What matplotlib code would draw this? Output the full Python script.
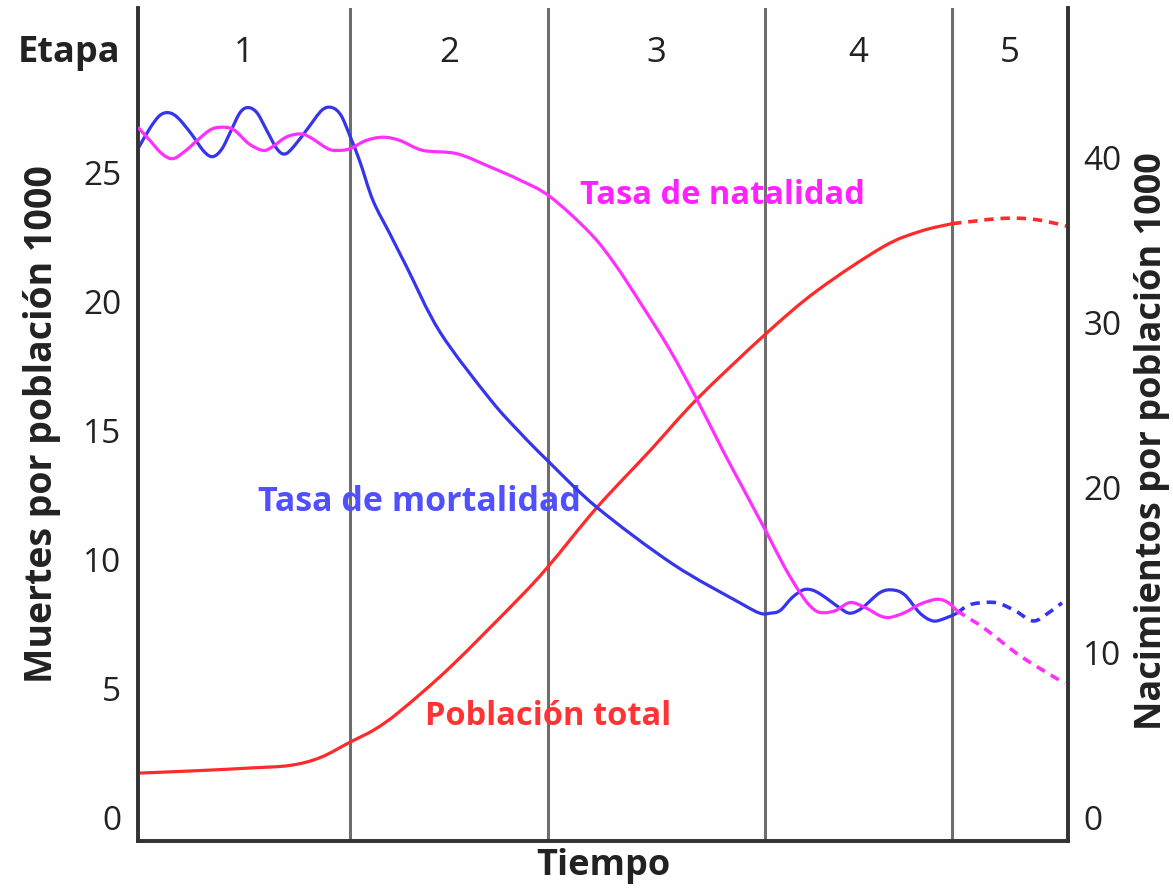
import matplotlib
matplotlib.use("Agg")
import matplotlib.pyplot as plt
from matplotlib.path import Path
from matplotlib.patches import PathPatch

plt.rcParams["font.family"] = ["Open Sans", "DejaVu Sans"]

# Tiempo (unidades arbitrarias, el eje no tiene marcas)
etapas = ["1", "2", "3", "4", "5"]
limites_etapa = [212, 410, 627, 814]

# Tasa de mortalidad (eje izquierdo, muertes por 1000)
t_mort = [0, 12, 22, 31, 40, 53, 66, 75, 84, 93, 102, 110, 119, 129, 139, 147, 156, 170, 184, 194,
          203, 212, 222, 235, 252, 269, 302, 352, 382, 410, 459, 535, 602, 622, 632, 642, 654, 665,
          674, 684, 702, 712, 724, 742, 755, 767, 782, 795, 807, 819]
mortalidad = [25.9, 26.7, 27.2, 27.3, 27.1, 26.5, 25.8, 25.6, 25.9, 26.6, 27.3, 27.5, 27.3, 26.6,
              25.9, 25.7, 26.0, 26.7, 27.4, 27.5, 27.2, 26.4, 25.4, 23.9, 22.6, 21.3, 18.8, 16.2,
              14.9, 13.8, 12.0, 9.8, 8.3, 7.9, 7.9, 8.0, 8.5, 8.8, 8.8, 8.6, 8.1, 7.9, 8.1, 8.7,
              8.8, 8.6, 7.9, 7.6, 7.7, 7.9]
t_mort_proy = [819, 830, 842, 859, 877, 895, 910, 924]
mortalidad_proy = [7.9, 8.2, 8.3, 8.3, 8.0, 7.6, 7.9, 8.3]

# Tasa de natalidad (eje derecho, nacimientos por 1000)
t_nat = [0, 12, 24, 35, 48, 61, 74, 87, 97, 111, 125, 134, 148, 162, 172, 190, 200, 212, 228, 245,
         262, 285, 319, 352, 382, 412, 452, 477, 502, 532, 559, 585, 607, 629, 647, 662, 672, 682,
         697, 712, 727, 742, 752, 767, 782, 799, 810, 819]
natalidad = [41.8, 41.0, 40.2, 39.9, 40.4, 41.1, 41.7, 41.8, 41.6, 40.8, 40.4, 40.6, 41.2, 41.4,
             41.2, 40.5, 40.4, 40.5, 41.0, 41.2, 41.0, 40.4, 40.2, 39.4, 38.6, 37.6, 35.4, 33.5,
             31.2, 28.3, 25.3, 22.2, 19.7, 17.2, 15.1, 13.6, 12.8, 12.4, 12.5, 13.0, 12.7, 12.2,
             12.1, 12.4, 12.9, 13.2, 13.0, 12.5]
t_nat_proy = [819, 832, 845, 862, 879, 902, 927]
natalidad_proy = [12.5, 12.0, 11.5, 10.7, 9.9, 9.0, 8.1]

# Población total (escala relativa sobre el eje izquierdo)
t_pob = [0, 62, 112, 152, 182, 212, 237, 262, 312, 379, 410, 459, 512, 559, 627, 679, 745, 782, 814]
poblacion = [1.7, 1.8, 1.9, 2.0, 2.3, 2.9, 3.4, 4.1, 5.8, 8.4, 9.7, 12.0, 14.2, 16.2, 18.7, 20.4,
             22.1, 22.7, 23.0]
t_pob_proy = [814, 837, 862, 887, 907, 929]
poblacion_proy = [23.0, 23.1, 23.2, 23.2, 23.1, 22.9]

azul = "#3535ee"
magenta = "#ff30ff"
rojo = "#ff2a2a"
gris = "#333333"
punteado = (0, (2.6, 1.9))


def curva(eje, xs, ys, **kw):
    # trazo suave (Bezier) que pasa por los puntos leídos
    pts = list(zip(xs, ys))
    verts = [pts[0]]
    codes = [Path.MOVETO]
    n = len(pts)
    for i in range(n - 1):
        p0 = pts[max(i - 1, 0)]
        p1 = pts[i]
        p2 = pts[i + 1]
        p3 = pts[min(i + 2, n - 1)]
        c1 = (p1[0] + (p2[0] - p0[0]) / 6, p1[1] + (p2[1] - p0[1]) / 6)
        c2 = (p2[0] - (p3[0] - p1[0]) / 6, p2[1] - (p3[1] - p1[1]) / 6)
        verts += [c1, c2, p2]
        codes += [Path.CURVE4] * 3
    eje.add_patch(PathPatch(Path(verts, codes), fill=False, **kw))


fig = plt.figure(figsize=(11.73, 8.89), dpi=100)
ax = fig.add_axes([0.1176, 0.054, 0.7929, 0.937])
ax2 = ax.twinx()

ax.set_xlim(0, 930)
ax.set_ylim(-0.93, 31.36)
ax2.set_ylim(-1.45, 49.03)

# Líneas de separación de etapas
for x in limites_etapa:
    ax.axvline(x, color="#6e6e6e", lw=2.2, zorder=1)

curva(ax, t_pob, poblacion, edgecolor=rojo, lw=2.3, zorder=3)
curva(ax, t_pob_proy, poblacion_proy, edgecolor=rojo, lw=2.6, ls=punteado, zorder=3)
curva(ax, t_mort, mortalidad, edgecolor=azul, lw=2.3, zorder=4)
curva(ax, t_mort_proy, mortalidad_proy, edgecolor=azul, lw=2.6, ls=punteado, zorder=4)
curva(ax2, t_nat, natalidad, edgecolor=magenta, lw=2.3, zorder=3)
curva(ax2, t_nat_proy, natalidad_proy, edgecolor=magenta, lw=2.6, ls=punteado, zorder=3)

# Ejes
for a in (ax, ax2):
    a.spines["top"].set_visible(False)
    for s in ("left", "right", "bottom"):
        a.spines[s].set_color(gris)
        a.spines[s].set_linewidth(2.6)
    a.tick_params(length=0, labelsize=24, colors="#222222")
ax.set_xticks([])
ax.set_yticks([0, 5, 10, 15, 20, 25])
ax2.set_yticks([0, 10, 20, 30, 40])
ax.tick_params(axis="y", pad=12)
ax2.tick_params(axis="y", pad=11)

ax.set_ylabel("Muertes por población 1000", fontsize=27, fontweight="bold", color="#222222")
ax.yaxis.set_label_coords(-0.083, 0.5)
ax2.set_ylabel("Nacimientos por población 1000", fontsize=26, fontweight="bold", color="#222222")
ax2.yaxis.set_label_coords(1.071, 0.48)
ax.set_xlabel("Tiempo", fontsize=26, fontweight="bold", color="#222222")
ax.xaxis.set_label_coords(0.5, -0.008)

# Encabezado de etapas
bordes = [0] + limites_etapa + [930]
for i, e in enumerate(etapas):
    ax.text((bordes[i] + bordes[i + 1]) / 2, 29.6, e, fontsize=25, color="#222222",
            ha="center", va="center")
ax.text(-18, 29.6, "Etapa", fontsize=26, fontweight="bold", color="#222222",
        ha="right", va="center", clip_on=False)

# Etiquetas de las curvas
ax.text(442, 24.1, "Tasa de natalidad", fontsize=23.5, fontweight="bold", color="#ff22ff", ha="left", va="center")
ax.text(120, 12.2, "Tasa de mortalidad", fontsize=24.5, fontweight="bold", color="#5050ff", ha="left", va="center")
ax.text(287, 3.9, "Población total", fontsize=23.5, fontweight="bold", color="#ff3333", ha="left", va="center")

fig.savefig("out.png", dpi=100)
